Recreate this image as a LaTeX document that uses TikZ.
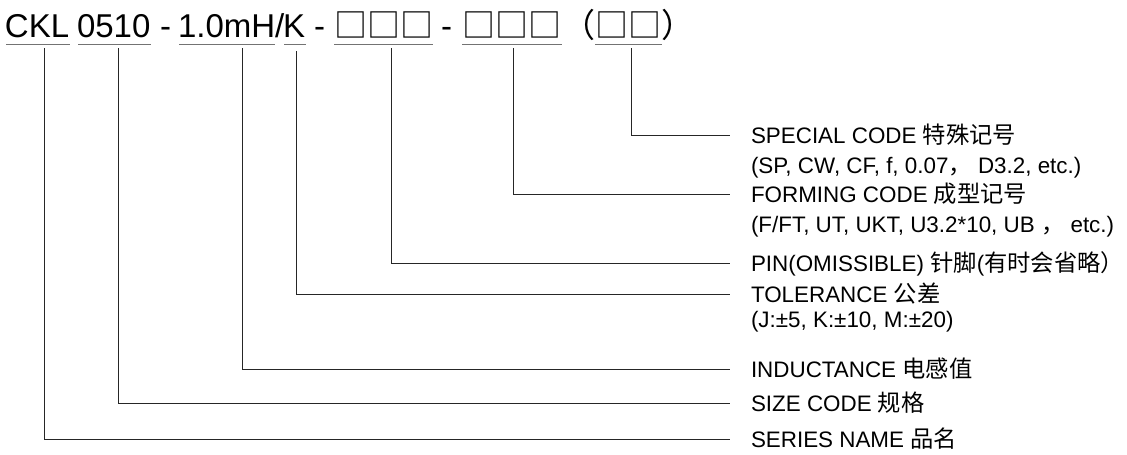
\documentclass[tikz,border=0pt]{standalone}
\usepackage{fontspec}
\setmainfont{Liberation Sans}
\newfontfamily\cjk[Scale=1.04]{Noto Sans CJK SC}
\newfontfamily\cjktop{Noto Sans CJK SC}
\begin{document}
\begin{tikzpicture}[x=1pt,y=-1pt,
  top/.style={anchor=base west,inner sep=0pt,outer sep=0pt,font=\fontsize{33}{36}\selectfont},
  lab/.style={anchor=base west,inner sep=0pt,outer sep=0pt,font=\fontsize{22.4}{24}\selectfont},
  uline/.style={draw=black!55,line width=1.1pt},
  conn/.style={draw=black!85,line width=0.9pt}]
\useasboundingbox (0,0) rectangle (1127,455);
% top code line
\node[top] (ckl) at (5,37) {CKL};
\node[top] (size) at (77,37) {0510};
\node[top] (d1) at (160,37) {-};
\node[top] (ind) at (178,37) {1.0mH};
\node[top] (sl) at (275,37) {/};
\node[top] (tol) at (283,37) {K};
\node[top] (d2) at (314,37) {-};
\node[top] (pin) at (334,37) {\cjktop □□□};
\node[top] (d3) at (441,37) {-};
\node[top] (form) at (462,37) {\cjktop □□□};
\node[top] (lp) at (562,37) {\cjktop （};
\node[top] (spec) at (595,37) {\cjktop □□};
\node[top] (rp) at (661,37) {\cjktop ）};
% underlines
\foreach \a/\b in {6/70,78/151,179/275,284/306,334/433,462/562,595/662}
  \draw[uline] (\a,44.7) -- (\b,44.7);
% connector tops
\coordinate (tckl) at (44.7,48);
\coordinate (tsize) at (118.5,48);
\coordinate (tind) at (242.5,48);
\coordinate (ttol) at (296.5,51);
\coordinate (tpin) at (391.5,48);
\coordinate (tform) at (513,48);
\coordinate (tspec) at (631.7,48);
% label ends
\coordinate (espec) at (730,135);
\coordinate (eform) at (730,194);
\coordinate (epin) at (730,263);
\coordinate (etol) at (730,294);
\coordinate (eind) at (730,369);
\coordinate (esize) at (730,403);
\coordinate (eckl) at (730,439);
% labels
\node[lab] (lspec) at (751,143) {SPECIAL CODE {\cjk 特殊记号}};
\node[lab] (lspec2) at (751,173) {(SP, CW, CF, f, 0.07{\cjk ，} D3.2, etc.)};
\node[lab] (lform) at (751,202) {FORMING CODE {\cjk 成型记号}};
\node[lab] (lform2) at (751,232) {(F/FT, UT, UKT, U3.2*10, UB {\cjk ，} etc.)};
\node[lab] (lpin) at (751,271) {PIN(OMISSIBLE) {\cjk 针脚}({\cjk 有时会省略）}};
\node[lab] (ltol) at (751,302) {TOLERANCE {\cjk 公差}};
\node[lab] (ltol2) at (751,327) {(J:±5, K:±10, M:±20)};
\node[lab] (lind) at (751,377) {INDUCTANCE {\cjk 电感值}};
\node[lab] (lsize) at (751,411) {SIZE CODE {\cjk 规格}};
\node[lab] (lckl) at (751,447) {SERIES NAME {\cjk 品名}};
% connectors
\foreach \n in {spec,form,pin,tol,ind,size,ckl}
  \draw[conn] (t\n) |- (e\n);
\end{tikzpicture}
\end{document}
